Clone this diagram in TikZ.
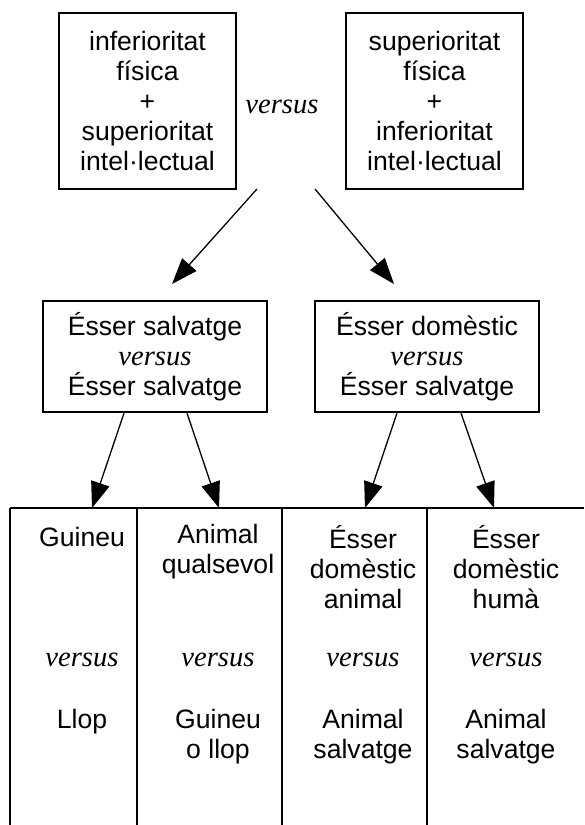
\documentclass[tikz,border=0pt]{standalone}
\usepackage{fontspec}
\setmainfont{Liberation Sans}
\newfontfamily\timesfont{Liberation Serif}
\usetikzlibrary{arrows.meta, positioning, calc}
\newcommand{\vsword}{{\timesfont\itshape\fontsize{14.3}{15}\selectfont versus}}

\begin{document}
\begin{tikzpicture}
	[
	x = 0.5pt, y = -0.5pt,
	every node/.style = {font = \fontsize{13.3}{15}\selectfont, align = center, inner sep = 0pt},
	bigbox/.style = {draw, line width = 1.1pt, minimum width = 88.5pt, minimum height = 88pt},
	midbox/.style = {draw, line width = 1.1pt, minimum width = 112pt, minimum height = 55.5pt},
	rule/.style = {line width = 1pt},
	tip/.style = {
		->, line width = 0.65pt,
		>={Triangle[width=9.5pt,length=13pt]}
	}
	]
	\useasboundingbox (0,0) rectangle (584,825);
	
	\node[bigbox] (infer) at (147.5,101) {inferioritat\\física\\+\\superioritat\\intel·lectual};
	\node[bigbox] (super) at (434.5,101) {superioritat\\física\\+\\inferioritat\\intel·lectual};
	\node (vs) at (282,107) {\vsword};
	
	\node[midbox] (salv) at (155,356.5) {Ésser salvatge\\\vsword\\Ésser salvatge};
	\node[midbox] (dom) at (427,356.5) {Ésser domèstic\\\vsword\\Ésser salvatge};
	
	% the table
	\coordinate (tl) at (10,508);
	\coordinate (tr) at (584,508);
	\draw[rule] (tl) -- (tr);
	\foreach \x in {10,137,282,427}
		\draw[rule] (\x,508) -- (\x,825);
	
	\node (guin) at (82,537) {Guineu};
	\node (anim) at (218,552) {Animal\\qualsevol};
	\node (domani) at (363,567) {Ésser\\domèstic\\animal};
	\node (domhum) at (506,567) {Ésser\\domèstic\\humà};
	\foreach \x/\n in {82/a,218/b,363/c,506/d}
		\node (vs\n) at (\x,660) {\vsword};
	\node (llop) at (82,722) {Llop};
	\node (guillop) at (218,737) {Guineu\\o llop};
	\node (salva) at (363,737) {Animal\\salvatge};
	\node (salvb) at (506,737) {Animal\\salvatge};
	
	% arrows
	\coordinate (la) at (257,189);
	\coordinate (ra) at (315,189);
	\coordinate (lt) at (172,284);
	\coordinate (rt) at (394,284);
	\draw[tip] (la) -- (lt);
	\draw[tip] (ra) -- (rt);
	
	\coordinate (t1) at (92,508);
	\coordinate (t2) at (219,508);
	\coordinate (t3) at (365,508);
	\coordinate (t4) at (494,508);
	\draw[tip] ($(salv.south)+(-31,0)$) -- (t1);
	\draw[tip] ($(salv.south)+(32,0)$) -- (t2);
	\draw[tip] ($(dom.south)+(-30,0)$) -- (t3);
	\draw[tip] ($(dom.south)+(34,0)$) -- (t4);
\end{tikzpicture}
\end{document}
